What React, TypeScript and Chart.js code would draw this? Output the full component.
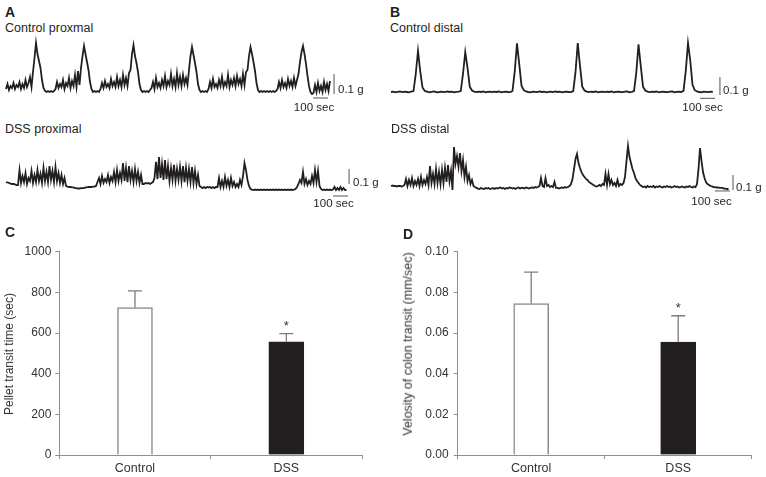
import React, { useEffect, useRef } from 'react';
import { Chart, registerables } from 'chart.js';

Chart.register(...registerables);

const FONT = "'Liberation Sans', Arial, Helvetica, sans-serif";
const INK = '#231f20';
const AXIS = '#8f8f8f';
const TEXT = '#333333';

// trace sampling and calibration
const FINE_SEC = 10;
const COARSE_SEC = 15;
const SCALE_G = 0.1;
const SCALE_SEC = 100;
const PX_PER_SEC = 0.15;
const TRACE_PAD_PX = 6;

// Panel A – Control proximal (g above resting baseline, one value per 10 s)
const ctrlProximal = [
  0.015, 0.04, 0.01, 0.03, 0.02, 0.045, 0.015, 0.035, 0.025, 0.05, 0.015, 0.04, 0.02, 0.06, 0.025, 0.045, 0.075, 0.025,
  0.1, 0.17, 0.245, 0.19, 0.155, 0.12, 0.06, 0.02, 0.005,
  0, 0.005, 0, 0.005, 0, 0.005,
  0.015, 0.05, 0.02, 0.04, 0.025, 0.06, 0.015, 0.045, 0.03, 0.07, 0.02, 0.055, 0.03, 0.085, 0.025, 0.105, 0.035,
  0.12, 0.18, 0.23, 0.19, 0.15, 0.11, 0.05, 0.015, 0,
  0.005, 0, 0.005, 0,
  0.015, 0.045, 0.02, 0.055, 0.025, 0.04, 0.02, 0.065, 0.03, 0.05, 0.025, 0.075, 0.03, 0.06, 0.025, 0.085, 0.035, 0.07, 0.03, 0.095,
  0.11, 0.19, 0.235, 0.18, 0.145, 0.1, 0.04, 0.01, 0,
  0.005, 0, 0.005, 0, 0.01,
  0.02, 0.05, 0.015, 0.07, 0.025, 0.045, 0.02, 0.06, 0.03, 0.08, 0.025, 0.055, 0.035, 0.09, 0.03, 0.065, 0.025, 0.095, 0.035, 0.075, 0.03, 0.085, 0.04, 0.07, 0.035,
  0.11, 0.18, 0.225, 0.185, 0.145, 0.1, 0.04, 0.01, 0,
  0.005, 0, 0.005, 0,
  0.015, 0.05, 0.02, 0.065, 0.025, 0.04, 0.02, 0.06, 0.03, 0.075, 0.025, 0.05, 0.03, 0.085, 0.025, 0.06, 0.035, 0.07, 0.03, 0.08, 0.04, 0.065, 0.03, 0.09, 0.035, 0.1,
  0.11, 0.18, 0.225, 0.19, 0.15, 0.105, 0.045, 0.01, 0,
  0.005, 0, 0.005, 0, 0.005, 0, 0.005, 0, 0.005, 0, 0.005,
  0.015, 0.05, 0.02, 0.06, 0.025, 0.045, 0.02, 0.065, 0.03, 0.055, 0.025, 0.07, 0.03, 0.06,
  0.09, 0.15, 0.2, 0.23, 0.19, 0.14, 0.08, 0.03, 0, -0.01,
  -0.005, 0.035, 0, 0.045, 0.005, 0.03, 0, 0.05, 0.01, 0.04, 0.005, 0.055,
];

// Panel A – DSS proximal (one value per 10 s)
const dssProximal = [
  0.053, 0.05, 0.047, 0.043, 0.04, 0.04, 0.037, 0.033, 0.033,
  0.133,
  0.047, 0.093, 0.053, 0.113, 0.04, 0.08, 0.06, 0.127, 0.047, 0.1, 0.053, 0.133, 0.06, 0.107, 0.047,
  0.147, 0.06, 0.12, 0.053, 0.16, 0.067, 0.127, 0.053, 0.153, 0.06, 0.113, 0.047, 0.1, 0.04, 0.08,
  0.027, 0.023, 0.02, 0.02, 0.017, 0.017, 0.013, 0.013, 0.01, 0.01, 0.013, 0.013, 0.013, 0.017, 0.017,
  0.02, 0.02, 0.02, 0.023, 0.023, 0.027,
  0.053, 0.08, 0.04, 0.093, 0.047, 0.073, 0.053, 0.1, 0.047, 0.087, 0.06, 0.12, 0.053, 0.133, 0.06, 0.113,
  0.067, 0.18, 0.06, 0.147, 0.053, 0.16, 0.067, 0.127, 0.053, 0.14, 0.06, 0.12, 0.047, 0.1, 0.04,
  0.04, 0.047, 0.043, 0.047, 0.04, 0.047, 0.053,
  0.08, 0.187, 0.073, 0.22, 0.08, 0.173, 0.067, 0.2, 0.073, 0.16, 0.06, 0.147, 0.067, 0.167, 0.06, 0.14,
  0.067, 0.153, 0.06, 0.16, 0.053, 0.147, 0.06, 0.14, 0.053, 0.153, 0.047, 0.127, 0.04, 0.1, 0.027,
  0.02, 0.013, 0.02, 0.013, 0.02, 0.017, 0.02, 0.013, 0.02, 0.013, 0.02, 0.02, 0.08, 0.02, 0.06,
  0.02, 0.087, 0.027, 0.067, 0.02, 0.08, 0.027, 0.053, 0.02, 0.04, 0.02, 0.067, 0.033, 0.093,
  0.18, 0.133, 0.067, 0.027, 0.007,
  0.003, 0, 0.003, 0, 0.003, 0, 0.003, 0, 0.003, 0, 0.003, 0, 0.003, 0, 0.003, 0,
  0.003, 0, 0.003, 0, 0.003, 0, 0.003, 0, 0.003, 0, 0.003, 0, 0.003, 0.007, 0.02,
  0.04, 0.067, 0.047, 0.12, 0.04, 0.073, 0.033, 0.06, 0.04, 0.093, 0.047, 0.133, 0.053, 0.127, 0.027,
  0.007, 0, 0.003, 0, 0.003, 0, 0.003, 0, 0.003, 0.02, 0, 0.013, 0, 0.02, 0, 0.013, 0, 0,
];

// Panel B – Control distal (one value per 15 s)
const ctrlDistal = [
  0, 0.002, -0.002, 0.001, 0.003, -0.001, 0.002, 0, -0.002, 0.002,
  0.005, 0.1, 0.228, 0.115, 0.025, 0.006, 0.002, -0.002, 0.001, 0.003,
  0, -0.002, 0.002, 0.001, -0.001, 0.003, 0, 0.002, -0.002, 0.001,
  0.002, 0.005, 0.1, 0.222, 0.135, 0.03, 0.008, 0.002, -0.001, 0.002,
  0, 0.003, -0.002, 0.001, 0.002, -0.001, 0.002, 0, 0.003, -0.002,
  0.001, 0.002, 0, -0.001, 0.006, 0.115, 0.27, 0.155, 0.035, 0.01,
  0.003, 0, -0.002, 0.002, 0.001, -0.001, 0.003, 0, 0.002, -0.002,
  0.001, 0.002, -0.001, 0.003, 0, 0.002, -0.002, 0.001, 0.002, 0,
  -0.001, 0.005, 0.11, 0.272, 0.145, 0.03, 0.008, 0.002, -0.001, 0.002,
  0, 0.003, -0.002, 0.001, 0.002, -0.001, 0.002, 0, 0.003, -0.002,
  0.001, 0.002, 0, -0.001, 0.002, 0.003, -0.002, 0.001, 0.005, 0.105,
  0.265, 0.145, 0.03, 0.008, 0.002, -0.001, 0.002, 0, 0.003, -0.002,
  0.001, 0.002, 0, -0.001, 0.002, 0.003, -0.002, 0.001, 0.002, 0,
  0.006, 0.115, 0.272, 0.175, 0.04, 0.01, 0.003, 0, -0.002, 0.002,
  0.001, -0.001, 0.002, 0,
];

// Panel B – DSS distal (one value per 10 s)
const dssDistal = [
  0.02, 0.023, 0.02, 0.02, 0.017, 0.02, 0.02, 0.017, 0.02,
  0.027, 0.067, 0.02, 0.06, 0.027, 0.073, 0.02, 0.053, 0.027, 0.067, 0.02, 0.08, 0.027, 0.06, 0.033, 0.08, 0.027,
  0.153, 0.04, 0.1, 0.033, 0.133, 0.04, 0.113, 0.033, 0.127, 0.04, 0.14, 0.047, 0.16, 0.053, 0.12, -0.007,
  0.28, 0.167, 0.22, 0.147, 0.24, 0.12, 0.193, 0.08, 0.147, 0.053, 0.093, 0.033, 0.06, 0.02, 0.013,
  0.007, 0.003, 0, 0.007, 0.003, 0, 0.007, 0.003, 0.007, 0, 0.003, 0.007, 0, 0.007, 0.003, 0.007, 0.01,
  0.003, 0.007, 0, 0.007, 0.003, 0.01, 0.007, 0.003, 0.007, 0, 0.007, 0.01, 0.003, 0.007, 0.007, 0.003,
  0.01, 0.007, 0.003, 0.007, 0.01, 0.007, 0.013, 0.01, 0.013,
  0.02, 0.073, 0.02, 0.013, 0.073, 0.02, 0.027, 0.013, 0.02, 0.013, 0.047, 0.007,
  0.007, 0.003, 0.007, 0.01, 0.007, 0.013, 0.01, 0.013, 0.02,
  0.033, 0.067, 0.133, 0.2, 0.233, 0.173, 0.14, 0.113, 0.093, 0.08, 0.067, 0.06, 0.047, 0.04, 0.033, 0.027, 0.02, 0.017,
  0.02, 0.027, 0.02, 0.033, 0.027, 0.1, 0.027, 0.1, 0.033, 0.06, 0.027, 0.04, 0.02, 0.06, 0.02, 0.033, 0.027, 0.04,
  0.08, 0.187, 0.287, 0.213, 0.173, 0.133, 0.107, 0.073, 0.053, 0.04, 0.027, 0.02,
  0.013, 0.017, 0.01, 0.02, 0.013, 0.017, 0.013, 0.02, 0.01, 0.017, 0.013, 0.02, 0.013, 0.01, 0.017, 0.013, 0.02, 0.013,
  0.017, 0.01, 0.013, 0.02, 0.013, 0.017, 0.01, 0.013, 0.017, 0.013, 0.01, 0.017, 0.013, 0.02, 0.013, 0.01, 0.017, 0.013,
  0.033, 0.133, 0.273, 0.187, 0.113, 0.073, 0.047, 0.033, 0.027, 0.02,
  0.017, 0.013, 0.013, 0.01, 0.01, 0.007, 0.007, 0.007, 0.003, 0.003, 0, 0,
];

// Panels C and D
const barCategories = ['Control', 'DSS'];
const transitTime = [725, 557];
const transitTimeErr = [82, 40];
const colonVelocity = [0.0745, 0.0555];
const colonVelocityErr = [0.0155, 0.013];
const significance = ['', '*'];
const transitTicks = { min: 0, max: 1000, step: 200, decimals: 0 };
const velocityTicks = { min: 0, max: 0.1, step: 0.02, decimals: 2 };

type TraceProps = {
  values: number[];
  stepSec: number;
  left: number;
  top: number;
  width: number;
  height: number;
  baselinePx: number;
  gPerPx: number;
  vBar: { t: number; g: number };
  hBar: { t: number; g: number };
};

function Trace({ values, stepSec, left, top, width, height, baselinePx, gPerPx, vBar, hBar }: TraceProps) {
  const ref = useRef<HTMLCanvasElement>(null);
  useEffect(() => {
    const xMin = -TRACE_PAD_PX / PX_PER_SEC;
    const xMax = xMin + width / PX_PER_SEC;
    const yMax = baselinePx * gPerPx;
    const yMin = yMax - height * gPerPx;
    const pts = values.map((v, i) => ({ x: i * stepSec, y: v }));
    const chart = new Chart(ref.current as HTMLCanvasElement, {
      type: 'line',
      data: {
        datasets: [
          { data: pts, borderColor: INK, borderWidth: 1.8, pointRadius: 0, tension: 0 },
          {
            data: [{ x: vBar.t, y: vBar.g }, { x: vBar.t, y: vBar.g + SCALE_G }],
            borderColor: '#555', borderWidth: 1, pointRadius: 0,
          },
          {
            data: [{ x: hBar.t, y: hBar.g }, { x: hBar.t + SCALE_SEC, y: hBar.g }],
            borderColor: '#555', borderWidth: 1, pointRadius: 0,
          },
        ],
      } as any,
      options: {
        animation: false,
        responsive: false,
        devicePixelRatio: 1,
        events: [],
        layout: { padding: 0 },
        plugins: { legend: { display: false }, tooltip: { enabled: false } },
        scales: {
          x: { type: 'linear', display: false, min: xMin, max: xMax },
          y: { type: 'linear', display: false, min: yMin, max: yMax },
        },
      } as any,
    });
    return () => chart.destroy();
  }, []);
  return (
    <canvas
      ref={ref}
      width={width}
      height={height}
      style={{ position: 'absolute', left, top, width, height }}
    />
  );
}

type BarProps = {
  left: number;
  top: number;
  width: number;
  height: number;
  area: { left: number; right: number; top: number; bottom: number };
  values: number[];
  errors: number[];
  ticks: { min: number; max: number; step: number; decimals: number };
  tickPad: number;
};

function BarPanel({ left, top, width, height, area, values, errors, ticks, tickPad }: BarProps) {
  const ref = useRef<HTMLCanvasElement>(null);
  useEffect(() => {
    const errorPlugin = {
      id: 'errorBars',
      afterDatasetsDraw(chart: any) {
        const { ctx } = chart;
        const meta = chart.getDatasetMeta(0);
        const ys = chart.scales.y;
        ctx.save();
        meta.data.forEach((bar: any, i: number) => {
          const x = bar.x;
          const y0 = ys.getPixelForValue(values[i]);
          const y1 = ys.getPixelForValue(values[i] + errors[i]);
          ctx.strokeStyle = '#7d7d7d';
          ctx.lineWidth = 1.3;
          ctx.beginPath();
          ctx.moveTo(x, y0);
          ctx.lineTo(x, y1);
          ctx.moveTo(x - 7, y1);
          ctx.lineTo(x + 7, y1);
          ctx.stroke();
          if (significance[i]) {
            ctx.fillStyle = TEXT;
            ctx.font = `13px ${FONT}`;
            ctx.textAlign = 'center';
            ctx.textBaseline = 'alphabetic';
            ctx.fillText(significance[i], x, y1 - 4);
          }
        });
        ctx.restore();
      },
    };
    const chart = new Chart(ref.current as HTMLCanvasElement, {
      type: 'bar',
      data: {
        labels: barCategories,
        datasets: [
          {
            data: values,
            backgroundColor: ['#ffffff', INK],
            borderColor: ['#8a8a8a', INK],
            borderWidth: 1.5,
            barThickness: 35,
          },
        ],
      },
      options: {
        animation: false,
        responsive: false,
        devicePixelRatio: 1,
        events: [],
        layout: { padding: { top: area.top - top, right: left + width - area.right, bottom: 0, left: 0 } },
        plugins: { legend: { display: false }, tooltip: { enabled: false } },
        scales: {
          x: {
            grid: { display: true, drawOnChartArea: false, drawTicks: true, tickLength: 4, color: AXIS, offset: true },
            border: { display: true, color: AXIS, width: 1 },
            ticks: { color: TEXT, font: { family: FONT, size: 12.5 }, padding: 2 },
            afterFit: (s: any) => { s.height = top + height - area.bottom; },
          },
          y: {
            min: ticks.min,
            max: ticks.max,
            grid: { display: true, drawOnChartArea: false, drawTicks: true, tickLength: 4, color: AXIS },
            border: { display: true, color: AXIS, width: 1 },
            ticks: {
              stepSize: ticks.step,
              color: TEXT,
              font: { family: FONT, size: 12 },
              padding: tickPad,
              callback: (v: any) => Number(v).toFixed(ticks.decimals),
            },
            afterFit: (s: any) => { s.width = area.left - left; },
          },
        },
      } as any,
      plugins: [errorPlugin],
    });
    return () => chart.destroy();
  }, []);
  return (
    <canvas
      ref={ref}
      width={width}
      height={height}
      style={{ position: 'absolute', left, top, width, height }}
    />
  );
}

function Label({ x, y, text, size = 12.5, bold = false, center = false, color = INK }: any) {
  const top = y - size * 0.8465;
  return (
    <div
      style={{
        position: 'absolute',
        left: x,
        top,
        fontFamily: FONT,
        fontSize: size,
        fontWeight: bold ? 700 : 400,
        lineHeight: `${size}px`,
        color,
        whiteSpace: 'nowrap',
        transform: center ? 'translateX(-50%)' : undefined,
      }}
    >
      {text}
    </div>
  );
}

function VLabel({ cx, cy, text, size = 12 }: any) {
  return (
    <div
      style={{
        position: 'absolute',
        left: cx,
        top: cy,
        fontFamily: FONT,
        fontSize: size,
        lineHeight: `${size}px`,
        color: TEXT,
        whiteSpace: 'nowrap',
        transform: 'translate(-50%, -50%) rotate(-90deg)',
      }}
    >
      {text}
    </div>
  );
}

export default function App() {
  return (
    <div
      style={{
        position: 'absolute',
        left: 0,
        top: 0,
        width: 766,
        height: 477,
        background: '#ffffff',
        overflow: 'hidden',
      }}
    >
      <Trace values={ctrlProximal} stepSec={FINE_SEC} left={0} top={35} width={370} height={75} baselinePx={57} gPerPx={0.005}
        vBar={{ t: 2187, g: -0.01 }} hBar={{ t: 2047, g: -0.03 }} />
      <Trace values={dssProximal} stepSec={FINE_SEC} left={0} top={140} width={370} height={75} baselinePx={50} gPerPx={1 / 150}
        vBar={{ t: 2287, g: 0.04 }} hBar={{ t: 2180, g: -0.04 }} />
      <Trace values={ctrlDistal} stepSec={COARSE_SEC} left={385} top={35} width={375} height={75} baselinePx={57} gPerPx={1 / 180}
        vBar={{ t: 2193, g: -0.017 }} hBar={{ t: 2060, g: -0.035 }} />
      <Trace values={dssDistal} stepSec={FINE_SEC} left={385} top={135} width={375} height={75} baselinePx={54} gPerPx={1 / 150}
        vBar={{ t: 2280, g: -0.007 }} hBar={{ t: 2160, g: -0.013 }} />

      <BarPanel left={0} top={235} width={380} height={242}
        area={{ left: 59.3, right: 362, top: 251.7, bottom: 455 }}
        values={transitTime} errors={transitTimeErr} ticks={transitTicks} tickPad={4} />
      <BarPanel left={380} top={235} width={386} height={242}
        area={{ left: 457.7, right: 751.7, top: 251.7, bottom: 455 }}
        values={colonVelocity} errors={colonVelocityErr} ticks={velocityTicks} tickPad={5} />

      <Label x={5} y={17.3} text="A" size={14} bold />
      <Label x={390} y={17.3} text="B" size={14} bold />
      <Label x={5} y={237} text="C" size={14} bold />
      <Label x={403} y={238.5} text="D" size={14} bold />

      <Label x={5} y={33} text="Control proxmal" />
      <Label x={390} y={32.7} text="Control distal" />
      <Label x={5} y={133.3} text="DSS proximal" />
      <Label x={391} y={133.3} text="DSS distal" />

      <Label x={338} y={94} text="0.1 g" size={11.5} />
      <Label x={353} y={186.5} text="0.1 g" size={11.5} />
      <Label x={723} y={95} text="0.1 g" size={11.5} />
      <Label x={736} y={192} text="0.1 g" size={11.5} />

      <Label x={314} y={111.3} text="100 sec" size={11.5} center />
      <Label x={333.5} y={207.8} text="100 sec" size={11.5} center />
      <Label x={702.5} y={111.3} text="100 sec" size={11.5} center />
      <Label x={711.5} y={205.3} text="100 sec" size={11.5} center />

      <VLabel cx={9} cy={354} text="Pellet transit time (sec)" size={12} />
      <VLabel cx={408} cy={344} text="Velosity of colon transit (mm/sec)" size={12.5} />
    </div>
  );
}
